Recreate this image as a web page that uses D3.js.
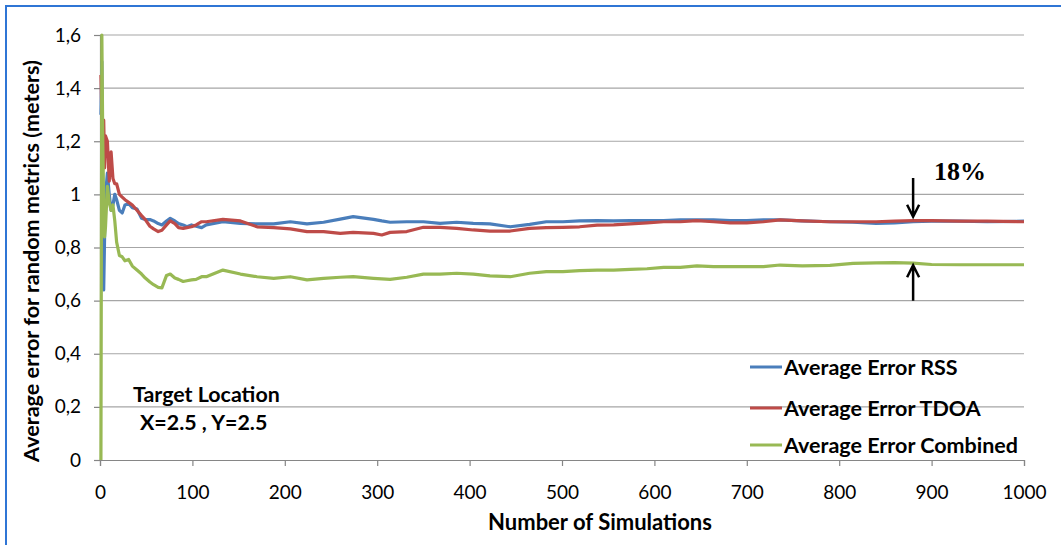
<!DOCTYPE html>
<html><head><meta charset="utf-8">
<script src="https://cdn.jsdelivr.net/npm/d3@7"></script>
<style>body{margin:0;background:#fff} svg{display:block}</style>
</head><body><svg id="c" width="1061" height="545"></svg>
<script>
const simulations = [1,2,3,4,5,6,8,10,12,14,16,18,21,24,27,31,35,40,45,49,54,58,63,67,72,76,81,85,90,94,99,104,110,115,
  133,152,170,188,206,224,242,260,274,296,305,314,332,350,368,386,404,422,444,465,483,501,519,538,556,574,592,610,628,646,664,682,700,718,736,760,790,815,840,860,880,900,930,960,1000];
const rssError = [1.30,1.50,0.90,0.64,0.85,1.00,1.08,1.00,0.94,0.96,1.00,0.98,0.94,0.93,0.96,0.965,0.95,0.945,0.91,0.905,0.905,0.90,0.89,0.885,0.90,0.91,0.90,0.89,0.885,0.878,0.885,0.88,0.875,0.885,
  0.897,0.891,0.889,0.889,0.897,0.889,0.895,0.907,0.916,0.906,0.90,0.895,0.897,0.897,0.891,0.895,0.891,0.889,0.878,0.887,0.897,0.897,0.90,0.901,0.90,0.901,0.901,0.901,0.904,0.904,0.904,0.901,0.901,0.904,0.904,0.90,0.897,0.895,0.891,0.893,0.897,0.899,0.899,0.897,0.899];
const tdoaError = [1.45,1.30,1.18,1.28,1.10,1.22,1.20,1.05,1.16,1.06,1.04,1.04,1.00,0.99,0.98,0.97,0.96,0.94,0.92,0.905,0.88,0.87,0.86,0.865,0.885,0.90,0.89,0.875,0.872,0.875,0.878,0.885,0.897,0.897,
  0.906,0.90,0.878,0.875,0.870,0.860,0.860,0.853,0.857,0.853,0.847,0.857,0.860,0.876,0.876,0.872,0.866,0.862,0.862,0.872,0.875,0.876,0.878,0.884,0.885,0.889,0.893,0.897,0.897,0.901,0.897,0.893,0.893,0.897,0.904,0.90,0.897,0.897,0.897,0.899,0.901,0.901,0.899,0.899,0.897];
const combinedError = [0.0,1.60,1.20,0.95,0.84,0.88,1.03,0.97,0.94,0.96,0.90,0.82,0.77,0.765,0.75,0.755,0.73,0.715,0.70,0.685,0.67,0.66,0.65,0.648,0.695,0.70,0.685,0.68,0.672,0.675,0.678,0.68,0.69,0.69,
  0.715,0.70,0.69,0.684,0.69,0.678,0.684,0.688,0.69,0.684,0.682,0.680,0.688,0.70,0.70,0.703,0.70,0.693,0.69,0.703,0.709,0.709,0.713,0.715,0.715,0.718,0.72,0.725,0.725,0.731,0.728,0.728,0.728,0.728,0.734,0.731,0.733,0.74,0.742,0.743,0.741,0.736,0.735,0.735,0.735];
const yTicks = [0,0.2,0.4,0.6,0.8,1.0,1.2,1.4,1.6];
const xTicks = [0,100,200,300,400,500,600,700,800,900,1000];
const seriesNames = ["Average Error RSS","Average Error TDOA","Average Error Combined"];
const seriesColors = ["#4A7EBB","#BE4B48","#98B954"];
const seriesValues = [rssError, tdoaError, combinedError];

const svg = d3.select("#c");
const FONT = "Lato, 'Open Sans', sans-serif";

// frame
svg.append("line").attr("x1",5).attr("x2",1061).attr("y1",6).attr("y2",6).attr("stroke","#2F75D5").attr("stroke-width",2);
svg.append("line").attr("x1",6).attr("x2",6).attr("y1",5).attr("y2",545).attr("stroke","#2F75D5").attr("stroke-width",2);

const x = d3.scaleLinear().domain([0,1000]).range([100,1024]);
const y = d3.scaleLinear().domain([0,1.6]).range([460,35]);

// gridlines
svg.append("g").selectAll("line").data(yTicks.filter(d=>d>0)).join("line")
  .attr("x1",x(0)).attr("x2",x(1000)).attr("y1",d=>y(d)).attr("y2",d=>y(d))
  .attr("stroke","#A6A6A6").attr("stroke-width",1.2);

// axes
const fmt = d => (Math.round(d*10)/10).toString().replace(".", ",");
const yAxis = svg.append("g").attr("transform",`translate(${x(0)},0)`)
  .call(d3.axisLeft(y).tickValues(yTicks).tickFormat(fmt).tickSize(6).tickPadding(13));
const xAxis = svg.append("g").attr("transform",`translate(0,${y(0)})`)
  .call(d3.axisBottom(x).tickValues(xTicks).tickFormat(d3.format("d")).tickSize(6).tickPadding(20));
[yAxis,xAxis].forEach(a=>{
  a.select(".domain").attr("stroke","#868686").attr("stroke-width",1.2);
  a.selectAll(".tick line").attr("stroke","#868686").attr("stroke-width",1.2);
  a.selectAll("text").attr("font-family",FONT).attr("font-size",19).attr("fill","#000");
});

// lines
const line = d3.line().x((d,i)=>x(simulations[i])).y(d=>y(d));
seriesValues.forEach((vals,k)=>{
  svg.append("path").datum(vals).attr("d",line).attr("fill","none")
    .attr("stroke",seriesColors[k]).attr("stroke-width",3.2).attr("stroke-linejoin","round");
});

// legend
const legendY = [367,408,445];
seriesNames.forEach((n,k)=>{
  svg.append("line").attr("x1",750).attr("x2",782).attr("y1",legendY[k]).attr("y2",legendY[k])
    .attr("stroke",seriesColors[k]).attr("stroke-width",3);
  svg.append("text").attr("x",784).attr("y",legendY[k]).attr("dy","0.35em")
    .attr("font-family",FONT).attr("font-weight","bold").attr("font-size",21.5).text(n);
});

// axis titles
svg.append("text").attr("x",600).attr("y",522).attr("dy","0.35em").attr("text-anchor","middle")
  .attr("font-family",FONT).attr("font-weight","bold").attr("font-size",22).text("Number of Simulations");
svg.append("text").attr("transform","translate(31,261) rotate(-90)").attr("dy","0.35em").attr("text-anchor","middle")
  .attr("font-family",FONT).attr("font-weight","bold").attr("font-size",21.6).text("Average error for random metrics (meters)");

// annotations
svg.append("text").attr("x",133).attr("y",395).attr("dy","0.35em")
  .attr("font-family",FONT).attr("font-weight","bold").attr("font-size",21.4).text("Target Location");
svg.append("text").attr("x",140).attr("y",423).attr("dy","0.35em")
  .attr("font-family",FONT).attr("font-weight","bold").attr("font-size",21.4).text("X=2.5 , Y=2.5");
svg.append("text").attr("x",934).attr("y",180)
  .attr("font-family","'Liberation Serif', serif").attr("font-weight","bold").attr("font-size",26).text("18%");

const arrowX = x(880);
function arrow(y1,y2){
  const dir = y2>y1?1:-1;
  svg.append("path").attr("d",`M${arrowX},${y1}L${arrowX},${y2}M${arrowX-6},${y2-dir*12}L${arrowX},${y2}L${arrowX+6},${y2-dir*12}`)
    .attr("fill","none").attr("stroke","#000").attr("stroke-width",2.5);
}
arrow(y(1.062), y(0.916));
arrow(y(0.6), y(0.733));
</script></body></html>
